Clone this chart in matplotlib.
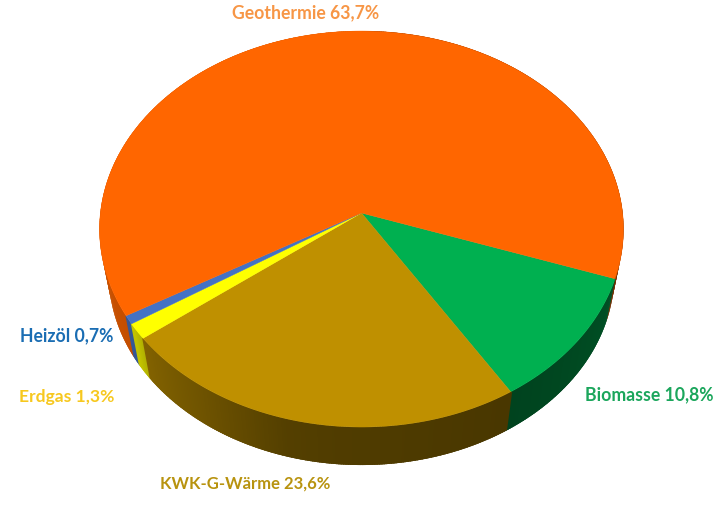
import numpy as np
import matplotlib
matplotlib.use("Agg")
import matplotlib.pyplot as plt
from matplotlib.patches import Polygon
from matplotlib.colors import to_rgb

names = ["Biomasse", "KWK-G-Wärme", "Erdgas", "Heizöl", "Geothermie"]
values = [10.8, 23.6, 1.3, 0.7, 63.7]
colors = ["#00B050", "#BF9000", "#FFFF00", "#4472C4", "#FF6600"]
text_colors = ["#1BA65C", "#B8930F", "#F7C81E", "#1A6DB3", "#F79646"]

START = -19.0
CX, CY = 361.5, 213.0
A, B, K = 261.1, 196.7, 0.081    # perspective view of a circle
DEPTH, SCALE = 45.5, 0.965       # bottom rim relative to the top rim
LABEL_POS = [(649, 395), (245, 484), (67, 397), (67, 336), (306, 13)]
LABEL_SIZE = [12.7, 12.0, 12.6, 12.7, 12.7]


def rim(deg, bottom=False):
    t = np.radians(deg)
    u, v = np.cos(t), -np.sin(t)
    s, d = (SCALE, DEPTH) if bottom else (1.0, 0.0)
    w = 1 - K * v
    return np.column_stack([CX + s * A * u / w, CY + d + s * B * v / w])


def shade(deg):
    d = ((deg + 270) % 360) - 270   # range -270..90
    return np.interp(d, [-200, -160, -146, -142, -125, -105, -95, -57, -20, 0],
                     [0.82, 0.78, 0.76, 0.68, 0.58, 0.44, 0.42, 0.38, 0.45, 0.45])


fig = plt.figure(figsize=(7.25, 5.07), dpi=100, facecolor="white")
ax = fig.add_axes([0, 0, 1, 1])
ax.set_xlim(0, 725)
ax.set_ylim(507, 0)
ax.axis("off")

angles = START - np.cumsum([0] + [v * 360 / sum(values) for v in values])

# side wall: small overlapping pieces, back to front
quads = []
for i, c in enumerate(colors):
    a0, a1 = angles[i], angles[i + 1]
    edges = np.linspace(a0, a1, max(2, int(abs(a1 - a0) * 2) + 1))
    for p, q in zip(edges[:-1], edges[1:]):
        quads.append((np.sin(np.radians((p + q) / 2)), p, q, c))
for depth, p, q, c in sorted(quads, key=lambda r: -r[0]):
    m = (p + q) / 2
    lo, hi = min(p, q) - 0.4, max(p, q) + 0.4
    pts = np.vstack([rim(np.array([lo, hi])), rim(np.array([hi, lo]), bottom=True)])
    col = np.array(to_rgb(c)) * shade(m)
    ax.add_patch(Polygon(pts, closed=True, facecolor=col, edgecolor="none", lw=0))

# top face
for i, c in enumerate(colors):
    arc = rim(np.linspace(angles[i], angles[i + 1], 300))
    pts = np.vstack([[CX, CY], arc])
    ax.add_patch(Polygon(pts, closed=True, facecolor=c, edgecolor=c, lw=0.3))

# labels
for n, v, tc, (x, y), fs in zip(names, values, text_colors, LABEL_POS, LABEL_SIZE):
    ax.text(x, y, f"{n} {str(v).replace('.', ',')}%", color=tc, fontsize=fs,
            fontweight="bold", family="Lato", ha="center", va="center")

fig.savefig("out.png", dpi=100, facecolor="white")
